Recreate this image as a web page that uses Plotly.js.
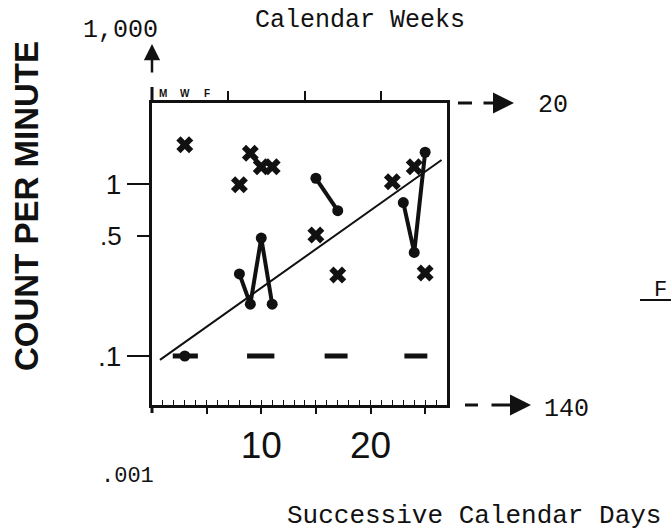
<!DOCTYPE html>
<html>
<head>
<meta charset="utf-8">
<script src="https://cdn.plot.ly/plotly-3.0.1.min.js"></script>
<style>html,body{margin:0;padding:0;background:#fff;}</style>
</head>
<body>
<div id="chart" style="width:671px;height:530px;"></div>
<script>
// ---- data ----
// counts per minute shown as crosses (x)
const crossDays   = [3, 8, 9, 10, 11, 15, 17, 22, 24, 25];
const crossValues = [1.69, 0.99, 1.51, 1.26, 1.26, 0.505, 0.296, 1.03, 1.26, 0.304];

// counts per minute shown as dots, joined within each run
const dotRun1Days   = [8, 9, 10, 11];
const dotRun1Values = [0.30, 0.20, 0.485, 0.20];
const dotRun2Days   = [15, 17];
const dotRun2Values = [1.08, 0.70];
const dotRun3Days   = [23, 24, 25];
const dotRun3Values = [0.78, 0.40, 1.53];
const dotSingleDays   = [3];
const dotSingleValues = [0.1];

// record floor (dashes), one per week
const floorStartDays = [1.9, 8.7, 15.8, 23.1];
const floorEndDays   = [4.2, 11.2, 17.9, 25.2];
const floorValue     = 0.1;

// celeration (trend) line end points
const trendDays   = [0.73, 26.5];
const trendValues = [0.095, 1.38];

// tick labels
const yTickVals  = [0.1, 1];
const yTickText  = ['.1', '1'];
const yHalfVals  = [0.5];
const yHalfText  = ['.5'];
const xTickVals  = [5, 10, 15, 20, 25];
const xTickText  = ['', '10', '', '20', ''];
const weekTickVals = [7, 14, 21];
const dayLetters = ['M', 'W', 'F'];
const dayLetterDays = [1, 3, 5];

// ---- build traces ----
const floorX = [], floorY = [];
floorStartDays.forEach((s, i) => {
  floorX.push(s, floorEndDays[i], null);
  floorY.push(floorValue, floorValue, null);
});

const dotRuns = [[dotRun1Days, dotRun1Values], [dotRun2Days, dotRun2Values], [dotRun3Days, dotRun3Values]];
const dotX = [], dotY = [];
dotRuns.forEach(([d, v]) => { dotX.push(...d, null); dotY.push(...v, null); });

const black = '#111';
const traces = [
  {x: trendDays, y: trendValues, mode: 'lines', line: {color: black, width: 2}, hoverinfo: 'skip'},
  {x: floorX, y: floorY, mode: 'lines', line: {color: black, width: 5}, connectgaps: false},
  {x: dotX, y: dotY, mode: 'lines+markers', connectgaps: false,
   line: {color: black, width: 4}, marker: {symbol: 'circle', size: 11, color: black}},
  {x: dotSingleDays, y: dotSingleValues, mode: 'markers',
   marker: {symbol: 'circle', size: 11, color: black}},
  {x: crossDays, y: crossValues, mode: 'markers',
   marker: {symbol: 'x', size: 15, color: black, line: {width: 0}}},
  // invisible traces to activate the overlay axes
  {x: [0], y: [1], xaxis: 'x2', yaxis: 'y2', mode: 'markers', marker: {opacity: 0}, hoverinfo: 'skip'},
  {x: [0], y: [1], xaxis: 'x3', yaxis: 'y', mode: 'markers', marker: {opacity: 0}, hoverinfo: 'skip'}
];

const W = 295, H = 302, L = 152, T = 103;
const px = v => (v - L) / W;          // page x -> paper x
const py = v => (T + H - v) / H;      // page y -> paper y

const mono = 'Liberation Mono, Courier New, monospace';
const sans = 'Liberation Sans, Arial, sans-serif';

function label(text, x, y, size, extra) {
  return Object.assign({text: text, x: px(x), y: py(y), xref: 'paper', yref: 'paper',
    xanchor: 'center', yanchor: 'middle', showarrow: false,
    font: {family: mono, size: size, color: black}}, extra || {});
}

const annotations = [
  label('Calendar Weeks', 360, 21, 25),
  label('1,000', 120, 30, 25),
  {text: '', x: 0, y: py(44), xref: 'paper', yref: 'paper', showarrow: true, ax: 0, ay: 30,
   arrowhead: 2, arrowsize: 1.3, arrowwidth: 2.5, arrowcolor: black},
  label('20', 553, 105, 25),
  {text: '', x: px(514), y: 1, xref: 'paper', yref: 'paper', showarrow: true, ax: -32, ay: 0,
   arrowhead: 2, arrowsize: 1.4, arrowwidth: 3, arrowcolor: black},
  label('140', 566, 409, 25),
  {text: '', x: px(531), y: 0, xref: 'paper', yref: 'paper', showarrow: true, ax: -41, ay: 0,
   arrowhead: 2, arrowsize: 1.4, arrowwidth: 3, arrowcolor: black},
  label('.001', 127, 476, 22),
  label('Successive Calendar Days', 474, 516, 26),
  label('F', 660, 290, 22),
  label('COUNT PER MINUTE', 26, 206, 33,
        {textangle: -90, font: {family: sans, size: 33, color: black, weight: 'bold'}})
];
dayLetters.forEach((t, i) => annotations.push({
  text: t, x: dayLetterDays[i], y: py(94), xref: 'x', yref: 'paper', showarrow: false,
  xanchor: 'center', yanchor: 'middle',
  font: {family: sans, size: 10, color: black, weight: 'bold'}
}));

const shapes = [
  {type: 'line', xref: 'paper', yref: 'paper', x0: px(458), x1: px(472), y0: 1, y1: 1, line: {color: black, width: 3}},
  {type: 'line', xref: 'paper', yref: 'paper', x0: px(465), x1: px(478), y0: 0, y1: 0, line: {color: black, width: 3}},
  {type: 'line', xref: 'paper', yref: 'paper', x0: px(640), x1: px(671), y0: py(300), y1: py(300), line: {color: black, width: 2}},
  {type: 'line', xref: 'paper', yref: 'paper', x0: 0, x1: 0, y0: 1, y1: py(87), line: {color: black, width: 3}},
  {type: 'line', xref: 'paper', yref: 'paper', x0: 0, x1: 0, y0: 0, y1: py(413), line: {color: black, width: 3}}
];

const yRange = [-1.285, 0.471];
const xRange = [0, 27];
const layout = {
  width: 671, height: 530,
  margin: {l: L, r: 671 - L - W, t: T, b: 530 - T - H, pad: 0},
  paper_bgcolor: '#fff', plot_bgcolor: '#fff',
  showlegend: false,
  xaxis: {
    range: xRange, showgrid: false, zeroline: false,
    showline: true, linewidth: 3, linecolor: black, mirror: true,
    tickmode: 'linear', tick0: 0, dtick: 1, showticklabels: false,
    ticks: 'inside', ticklen: 5, tickwidth: 1, tickcolor: black
  },
  xaxis3: {
    range: xRange, overlaying: 'x', side: 'bottom', anchor: 'y', showgrid: false, zeroline: false,
    showline: false, tickmode: 'array', tickvals: xTickVals, ticktext: xTickText,
    ticks: 'outside', ticklen: 8, tickwidth: 2, tickcolor: black,
    tickfont: {family: sans, size: 37, color: black}
  },
  xaxis2: {
    range: xRange, overlaying: 'x', side: 'top', anchor: 'y', showgrid: false, zeroline: false,
    showline: false, tickmode: 'array', tickvals: weekTickVals, showticklabels: false,
    ticks: 'outside', ticklen: 11, tickwidth: 2, tickcolor: black
  },
  yaxis: {
    type: 'log', range: yRange, showgrid: false, zeroline: false,
    showline: true, linewidth: 3, linecolor: black, mirror: true,
    tickmode: 'array', tickvals: yTickVals, ticktext: yTickText,
    ticks: 'outside', ticklen: 22, tickwidth: 2, tickcolor: black,
    tickfont: {family: sans, size: 28, color: black}
  },
  yaxis2: {
    type: 'log', range: yRange, overlaying: 'y', side: 'left', anchor: 'x',
    showgrid: false, zeroline: false, showline: false,
    tickmode: 'array', tickvals: yHalfVals, ticktext: yHalfText,
    ticks: 'outside', ticklen: 14, tickwidth: 2, tickcolor: black, ticklabelstandoff: 10,
    tickfont: {family: sans, size: 26, color: black}
  },
  annotations: annotations,
  shapes: shapes
};

Plotly.newPlot('chart', traces, layout, {staticPlot: true, displayModeBar: false});
</script>
</body>
</html>
